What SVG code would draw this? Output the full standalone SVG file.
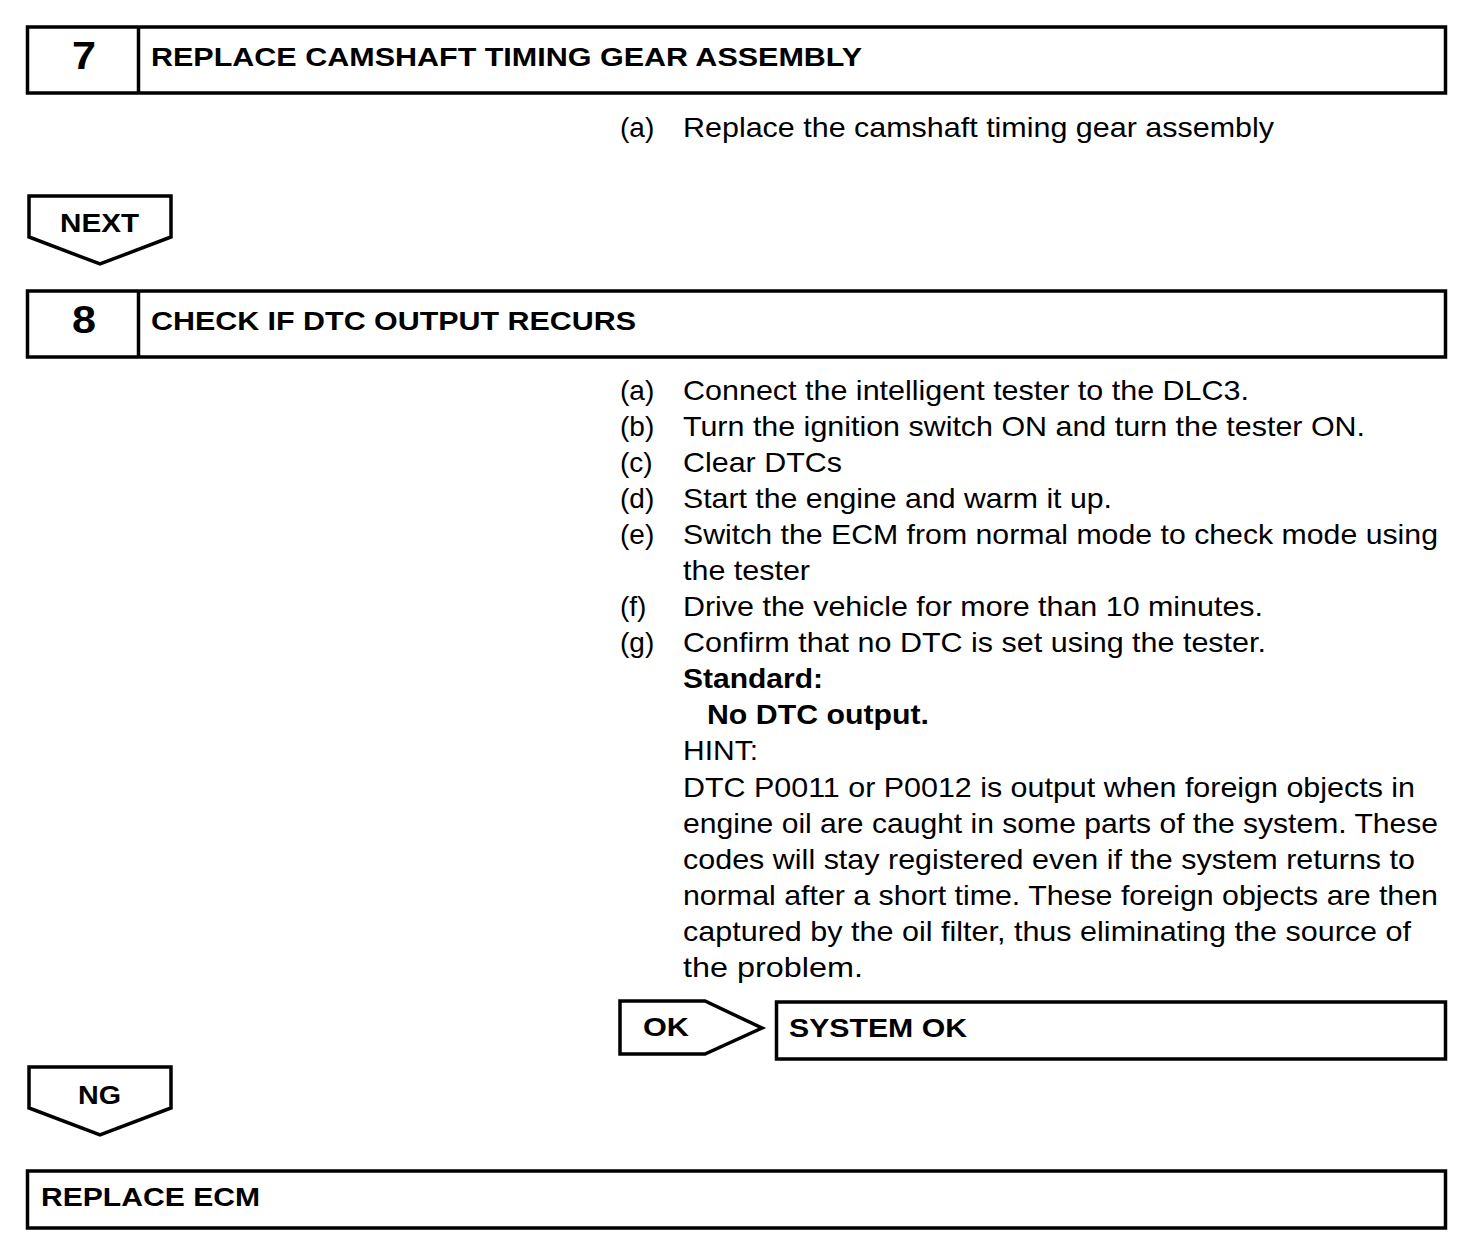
<svg xmlns="http://www.w3.org/2000/svg" width="1472" height="1250" viewBox="0 0 1472 1250">
<style>
.box{fill:#fff;stroke:#000;stroke-width:3.5}
.t{font-family:"Liberation Sans",Arial,sans-serif;font-size:28px;fill:#000}
.b{font-family:"Liberation Sans",Arial,sans-serif;font-size:25px;font-weight:bold;fill:#000}
.bb{font-family:"Liberation Sans",Arial,sans-serif;font-size:28px;font-weight:bold;fill:#000}
.n{font-family:"Liberation Sans",Arial,sans-serif;font-size:38px;font-weight:bold;fill:#000}
</style>
<rect width="1472" height="1250" fill="#fff"/>
<g id="step7">
<rect class="box" x="27.5" y="27" width="1418" height="66"/>
<line x1="138.5" y1="27" x2="138.5" y2="93" stroke="#000" stroke-width="3.5"/>
<text class="n" x="72" y="69" textLength="24" lengthAdjust="spacingAndGlyphs">7</text>
<text class="b" x="151" y="66" textLength="711" lengthAdjust="spacingAndGlyphs">REPLACE CAMSHAFT TIMING GEAR ASSEMBLY</text>
</g>
<g id="step7-text">
<text class="t" x="620" y="137">(a)</text>
<text class="t" x="683" y="137" textLength="591" lengthAdjust="spacingAndGlyphs">Replace the camshaft timing gear assembly</text>
</g>
<g id="connectors">
<g id="next">
<polygon class="box" points="29,196 171,196 171,237 100,264 29,237"/>
<text class="b" x="60" y="232" textLength="79" lengthAdjust="spacingAndGlyphs">NEXT</text>
</g>
<g id="ok">
<polygon class="box" points="620,1001 705,1001 762,1028 705,1054 620,1054"/>
<text class="b" x="643" y="1036" textLength="46" lengthAdjust="spacingAndGlyphs">OK</text>
</g>
<g id="ng">
<polygon class="box" points="29,1067 171,1067 171,1108 100,1135 29,1108"/>
<text class="b" x="78" y="1104" textLength="43" lengthAdjust="spacingAndGlyphs">NG</text>
</g>
</g>
<g id="step8">
<rect class="box" x="27.5" y="291" width="1418" height="66"/>
<line x1="138.5" y1="291" x2="138.5" y2="357" stroke="#000" stroke-width="3.5"/>
<text class="n" x="72" y="333" textLength="24" lengthAdjust="spacingAndGlyphs">8</text>
<text class="b" x="151" y="330" textLength="485" lengthAdjust="spacingAndGlyphs">CHECK IF DTC OUTPUT RECURS</text>
</g>
<g id="step8-text">
<text class="t" x="620" y="400">(a)</text>
<text class="t" x="683" y="400" textLength="566" lengthAdjust="spacingAndGlyphs">Connect the intelligent tester to the DLC3.</text>
<text class="t" x="620" y="436">(b)</text>
<text class="t" x="683" y="436" textLength="682" lengthAdjust="spacingAndGlyphs">Turn the ignition switch ON and turn the tester ON.</text>
<text class="t" x="620" y="472">(c)</text>
<text class="t" x="683" y="472" textLength="159" lengthAdjust="spacingAndGlyphs">Clear DTCs</text>
<text class="t" x="620" y="508">(d)</text>
<text class="t" x="683" y="508" textLength="429" lengthAdjust="spacingAndGlyphs">Start the engine and warm it up.</text>
<text class="t" x="620" y="544">(e)</text>
<text class="t" x="683" y="544" textLength="755" lengthAdjust="spacingAndGlyphs">Switch the ECM from normal mode to check mode using</text>
<text class="t" x="683" y="580" textLength="127" lengthAdjust="spacingAndGlyphs">the tester</text>
<text class="t" x="620" y="616">(f)</text>
<text class="t" x="683" y="616" textLength="580" lengthAdjust="spacingAndGlyphs">Drive the vehicle for more than 10 minutes.</text>
<text class="t" x="620" y="652">(g)</text>
<text class="t" x="683" y="652" textLength="583" lengthAdjust="spacingAndGlyphs">Confirm that no DTC is set using the tester.</text>
<text class="bb" x="683" y="688" textLength="140" lengthAdjust="spacingAndGlyphs">Standard:</text>
<text class="bb" x="707" y="724" textLength="222" lengthAdjust="spacingAndGlyphs">No DTC output.</text>
<text class="t" x="683" y="760" textLength="75" lengthAdjust="spacingAndGlyphs">HINT:</text>
<text class="t" x="683" y="797" textLength="732" lengthAdjust="spacingAndGlyphs">DTC P0011 or P0012 is output when foreign objects in</text>
<text class="t" x="683" y="833" textLength="755" lengthAdjust="spacingAndGlyphs">engine oil are caught in some parts of the system. These</text>
<text class="t" x="683" y="869" textLength="732" lengthAdjust="spacingAndGlyphs">codes will stay registered even if the system returns to</text>
<text class="t" x="683" y="905" textLength="755" lengthAdjust="spacingAndGlyphs">normal after a short time. These foreign objects are then</text>
<text class="t" x="683" y="941" textLength="728" lengthAdjust="spacingAndGlyphs">captured by the oil filter, thus eliminating the source of</text>
<text class="t" x="683" y="977" textLength="180" lengthAdjust="spacingAndGlyphs">the problem.</text>
</g>
<g id="system-ok">
<rect class="box" x="776.5" y="1002" width="669" height="57"/>
<text class="b" x="789" y="1037" textLength="178" lengthAdjust="spacingAndGlyphs">SYSTEM OK</text>
</g>
<g id="replace-ecm">
<rect class="box" x="27.5" y="1171" width="1418" height="57"/>
<text class="b" x="41" y="1206" textLength="219" lengthAdjust="spacingAndGlyphs">REPLACE ECM</text>
</g>
</svg>
